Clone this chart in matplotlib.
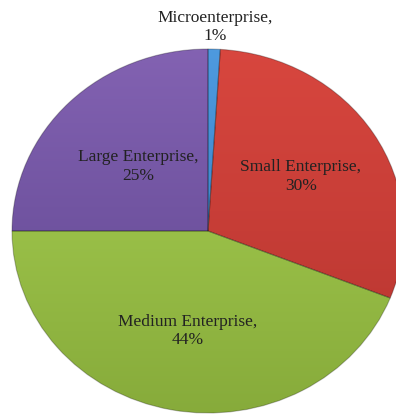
import numpy as np
import matplotlib.pyplot as plt
from matplotlib.colors import LinearSegmentedColormap

# Données du graphique
categories = ["Microenterprise", "Small Enterprise", "Medium Enterprise", "Large Enterprise"]
parts = [1, 30, 44, 25]

# couleurs (haut clair -> bas foncé)
couleurs_haut = ["#4f9be0", "#d9473f", "#acd455", "#8463b3"]
couleurs_bas = ["#2f72b8", "#b3332e", "#86aa3a", "#5b438c"]
distances = [1.12, 0.56, 0.56, 0.50]

plt.rcParams['font.family'] = ['Liberation Serif', 'DejaVu Serif']

fig = plt.figure(figsize=(3.96, 4.16), dpi=100)
ax = fig.add_axes([0, 0, 1, 1])

wedges, _ = ax.pie(parts, startangle=90, counterclock=False, radius=1,
                   colors=couleurs_haut, wedgeprops=dict(linewidth=0))

# dégradé vertical dans chaque part
grad = np.linspace(0, 1, 256).reshape(-1, 1)
for w, c1, c2 in zip(wedges, couleurs_haut, couleurs_bas):
    cmap = LinearSegmentedColormap.from_list("g", [c1, c2])
    im = ax.imshow(grad, cmap=cmap, extent=(-1.05, 1.05, -1.05, 1.05),
                   aspect='auto', origin='upper', zorder=w.get_zorder() + 0.1)
    im.set_clip_path(w)
    w.set_edgecolor((0, 0, 0, 0.25))
    w.set_linewidth(0.8)
    w.set_zorder(w.get_zorder() + 0.2)
    w.set_facecolor('none')

# étiquettes
for w, nom, p, d in zip(wedges, categories, parts, distances):
    ang = np.deg2rad((w.theta1 + w.theta2) / 2)
    ax.text(d * np.cos(ang), d * np.sin(ang), f"{nom},\n{p}%",
            ha='center', va='center', fontsize=12.5, color='#222222',
            linespacing=1.2, zorder=10)

ax.set_aspect('auto')
ax.set_xlim(-208 / 196, (396 - 208) / 196)
ax.set_ylim(-(416 - 231) / 182, 231 / 182)
ax.axis('off')

plt.savefig("out.png", dpi=100)
